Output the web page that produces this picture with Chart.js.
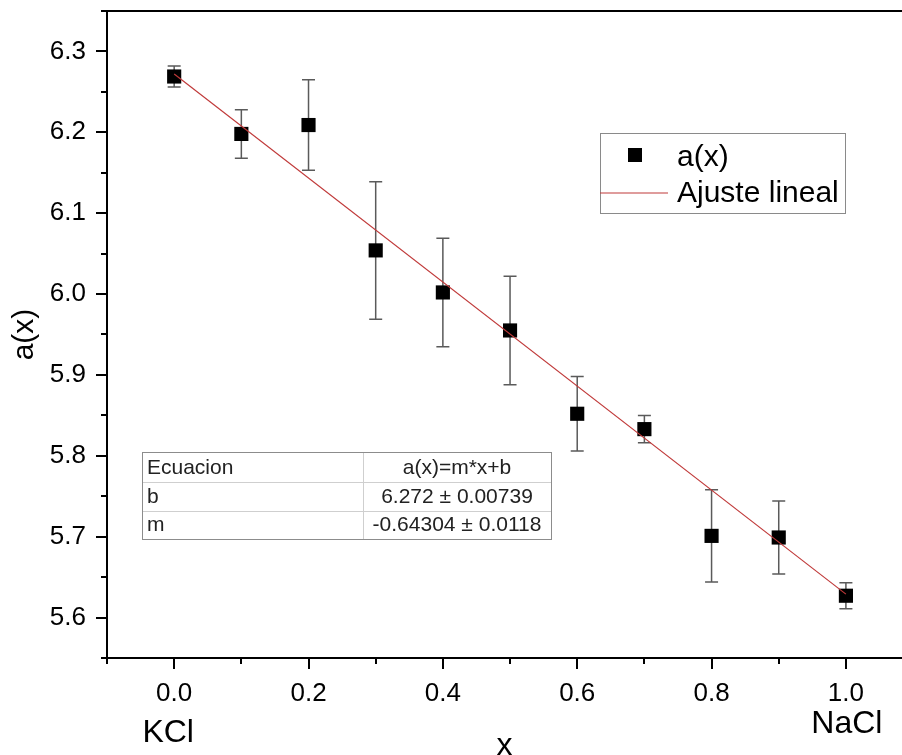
<!DOCTYPE html>
<html lang="es">
<head>
<meta charset="UTF-8" />
<title>a(x) vs x</title>
<script src="https://cdn.jsdelivr.net/npm/chart.js"></script>
<style>
  html, body { margin: 0; padding: 0; background: #fff; }
  canvas { display: block; }
</style>
</head>
<body>
<canvas id="chart" width="902" height="755"></canvas>
<script>
// measured points with their error bars
const xValues = [0, 0.1, 0.2, 0.3, 0.4, 0.5, 0.6, 0.7, 0.8, 0.9, 1.0];
const aValues = [6.269, 6.198, 6.209, 6.054, 6.002, 5.955, 5.852, 5.833, 5.701, 5.699, 5.627];
const aErrors = [0.013, 0.030, 0.056, 0.085, 0.067, 0.067, 0.046, 0.017, 0.057, 0.045, 0.016];

// linear fit a(x) = m*x + b
const fitX = [0, 1.0];
const fitY = [6.272, 5.629];

// axis ticks (empty label = minor tick)
const xTickValues = [-0.1, 0, 0.1, 0.2, 0.3, 0.4, 0.5, 0.6, 0.7, 0.8, 0.9, 1.0];
const xTickLabels = ['', '0.0', '', '0.2', '', '0.4', '', '0.6', '', '0.8', '', '1.0'];
const yTickValues = [5.55, 5.6, 5.65, 5.7, 5.75, 5.8, 5.85, 5.9, 5.95, 6.0, 6.05, 6.1, 6.15, 6.2, 6.25, 6.3, 6.35];
const yTickLabels = ['', '5.6', '', '5.7', '', '5.8', '', '5.9', '', '6.0', '', '6.1', '', '6.2', '', '6.3', ''];

// end member names under the x axis
const endValues = [0, 1.0];
const endNames = ['KCl', 'NaCl'];

// fit results table
const tableRows = [
  ['Ecuacion', 'a(x)=m*x+b'],
  ['b', '6.272 \u00b1 0.00739'],
  ['m', '-0.64304 \u00b1 0.0118']
];

const FONT = "Arial, 'Liberation Sans', sans-serif";
const FIT_COLOR = '#c03a3a';

const extras = {
  id: 'extras',
  beforeDatasetsDraw(chart) {
    const ctx = chart.ctx;
    const xs = chart.scales.x, ys = chart.scales.y;
    ctx.save();
    ctx.strokeStyle = '#5a5a5a';
    ctx.lineWidth = 1.5;
    xValues.forEach((xv, i) => {
      const px = xs.getPixelForValue(xv);
      const top = ys.getPixelForValue(aValues[i] + aErrors[i]);
      const bot = ys.getPixelForValue(aValues[i] - aErrors[i]);
      ctx.beginPath();
      ctx.moveTo(px, top); ctx.lineTo(px, bot);
      ctx.moveTo(px - 6.5, top); ctx.lineTo(px + 6.5, top);
      ctx.moveTo(px - 6.5, bot); ctx.lineTo(px + 6.5, bot);
      ctx.stroke();
    });
    ctx.restore();
  },
  afterDraw(chart) {
    const ctx = chart.ctx;
    const xs = chart.scales.x, ys = chart.scales.y;
    const area = chart.chartArea;
    ctx.save();

    // top frame line
    ctx.strokeStyle = '#000';
    ctx.lineWidth = 2;
    ctx.beginPath();
    ctx.moveTo(area.left - 1, area.top);
    ctx.lineTo(area.right, area.top);
    ctx.stroke();

    // tick marks, major longer than minor
    ctx.beginPath();
    xTickValues.forEach((v, i) => {
      const px = Math.round(xs.getPixelForValue(v));
      const len = xTickLabels[i] ? 11 : 6;
      ctx.moveTo(px, area.bottom);
      ctx.lineTo(px, area.bottom + len);
    });
    yTickValues.forEach((v, i) => {
      const py = Math.round(ys.getPixelForValue(v));
      const len = yTickLabels[i] ? 11 : 6;
      ctx.moveTo(area.left, py);
      ctx.lineTo(area.left - len, py);
    });
    ctx.stroke();

    // KCl / NaCl
    ctx.fillStyle = '#000';
    ctx.font = '32px ' + FONT;
    ctx.textAlign = 'center';
    ctx.textBaseline = 'alphabetic';
    ctx.fillText(endNames[0], xs.getPixelForValue(endValues[0]) - 6, 742);
    ctx.fillText(endNames[1], xs.getPixelForValue(endValues[1]) + 1, 733);

    // legend box
    const pts = chart.data.datasets[0], fit = chart.data.datasets[1];
    ctx.strokeStyle = '#8a8a8a';
    ctx.lineWidth = 1;
    ctx.strokeRect(600.5, 133.5, 245, 80);
    ctx.fillStyle = '#000';
    ctx.fillRect(628, 148, 14, 14);
    ctx.strokeStyle = FIT_COLOR;
    ctx.lineWidth = 1.2;
    ctx.beginPath();
    ctx.moveTo(600, 193);
    ctx.lineTo(668, 193);
    ctx.stroke();
    ctx.fillStyle = '#000';
    ctx.font = '30px ' + FONT;
    ctx.textAlign = 'left';
    ctx.fillText(pts.label, 677, 166);
    ctx.fillText(fit.label, 677, 202);

    // fit table
    const tx = 142, ty = 452, tw = 409, colX = 363;
    const rowY = [452, 482, 511, 539];
    ctx.strokeStyle = '#cfcfcf';
    ctx.lineWidth = 1;
    ctx.beginPath();
    ctx.moveTo(tx, rowY[1] + 0.5); ctx.lineTo(tx + tw, rowY[1] + 0.5);
    ctx.moveTo(tx, rowY[2] + 0.5); ctx.lineTo(tx + tw, rowY[2] + 0.5);
    ctx.moveTo(colX + 0.5, ty); ctx.lineTo(colX + 0.5, rowY[3]);
    ctx.stroke();
    ctx.strokeStyle = '#8c8c8c';
    ctx.strokeRect(tx + 0.5, ty + 0.5, tw, rowY[3] - ty);
    ctx.fillStyle = '#222';
    ctx.font = '21px ' + FONT;
    const base = [474, 503, 531];
    tableRows.forEach((row, i) => {
      ctx.textAlign = 'left';
      ctx.fillText(row[0], tx + 5, base[i]);
      ctx.textAlign = 'center';
      ctx.fillText(row[1], (colX + tx + tw) / 2, base[i]);
    });

    ctx.restore();
  }
};

const ctx = document.getElementById('chart').getContext('2d');
new Chart(ctx, {
  type: 'scatter',
  data: {
    datasets: [{
      label: 'a(x)',
      data: xValues.map((x, i) => ({ x: x, y: aValues[i] })),
      pointStyle: 'rect',
      pointRadius: 10,
      backgroundColor: '#000',
      borderColor: '#000',
      borderWidth: 0,
      order: 1
    }, {
      type: 'line',
      label: 'Ajuste lineal',
      data: fitX.map((x, i) => ({ x: x, y: fitY[i] })),
      borderColor: FIT_COLOR,
      borderWidth: 1.2,
      pointRadius: 0,
      fill: false,
      order: 0
    }]
  },
  options: {
    responsive: false,
    animation: false,
    events: [],
    layout: { autoPadding: false, padding: { top: 11, right: 0, left: 0, bottom: 0 } },
    plugins: {
      legend: { display: false },
      tooltip: { enabled: false }
    },
    scales: {
      x: {
        type: 'linear',
        min: -0.1,
        max: 1.0835,
        afterBuildTicks: s => { s.ticks = xTickValues.map(v => ({ value: v })); },
        afterFit: s => { s.height = 97; s.paddingLeft = 0; s.paddingRight = 0; },
        grid: { display: false, drawTicks: false },
        border: { display: true, color: '#000', width: 2 },
        ticks: {
          autoSkip: false,
          maxRotation: 0,
          padding: 20,
          color: '#000',
          font: { family: FONT, size: 26 },
          callback: (v, i) => xTickLabels[i]
        },
        title: {
          display: true,
          text: 'x',
          color: '#000',
          font: { family: FONT, size: 32 },
          padding: { top: 0, bottom: -10 }
        }
      },
      y: {
        min: 5.55,
        max: 6.35,
        afterBuildTicks: s => { s.ticks = yTickValues.map(v => ({ value: v })); },
        afterFit: s => { s.width = 107; s.paddingTop = 0; s.paddingBottom = 0; },
        grid: { display: false, drawTicks: false },
        border: { display: true, color: '#000', width: 2 },
        ticks: {
          autoSkip: false,
          padding: 21,
          color: '#000',
          font: { family: FONT, size: 26 },
          callback: (v, i) => yTickLabels[i]
        },
        title: {
          display: true,
          text: 'a(x)',
          color: '#000',
          font: { family: FONT, size: 30 },
          padding: { top: 7, bottom: 0 }
        }
      }
    }
  },
  plugins: [extras]
});
</script>
</body>
</html>
